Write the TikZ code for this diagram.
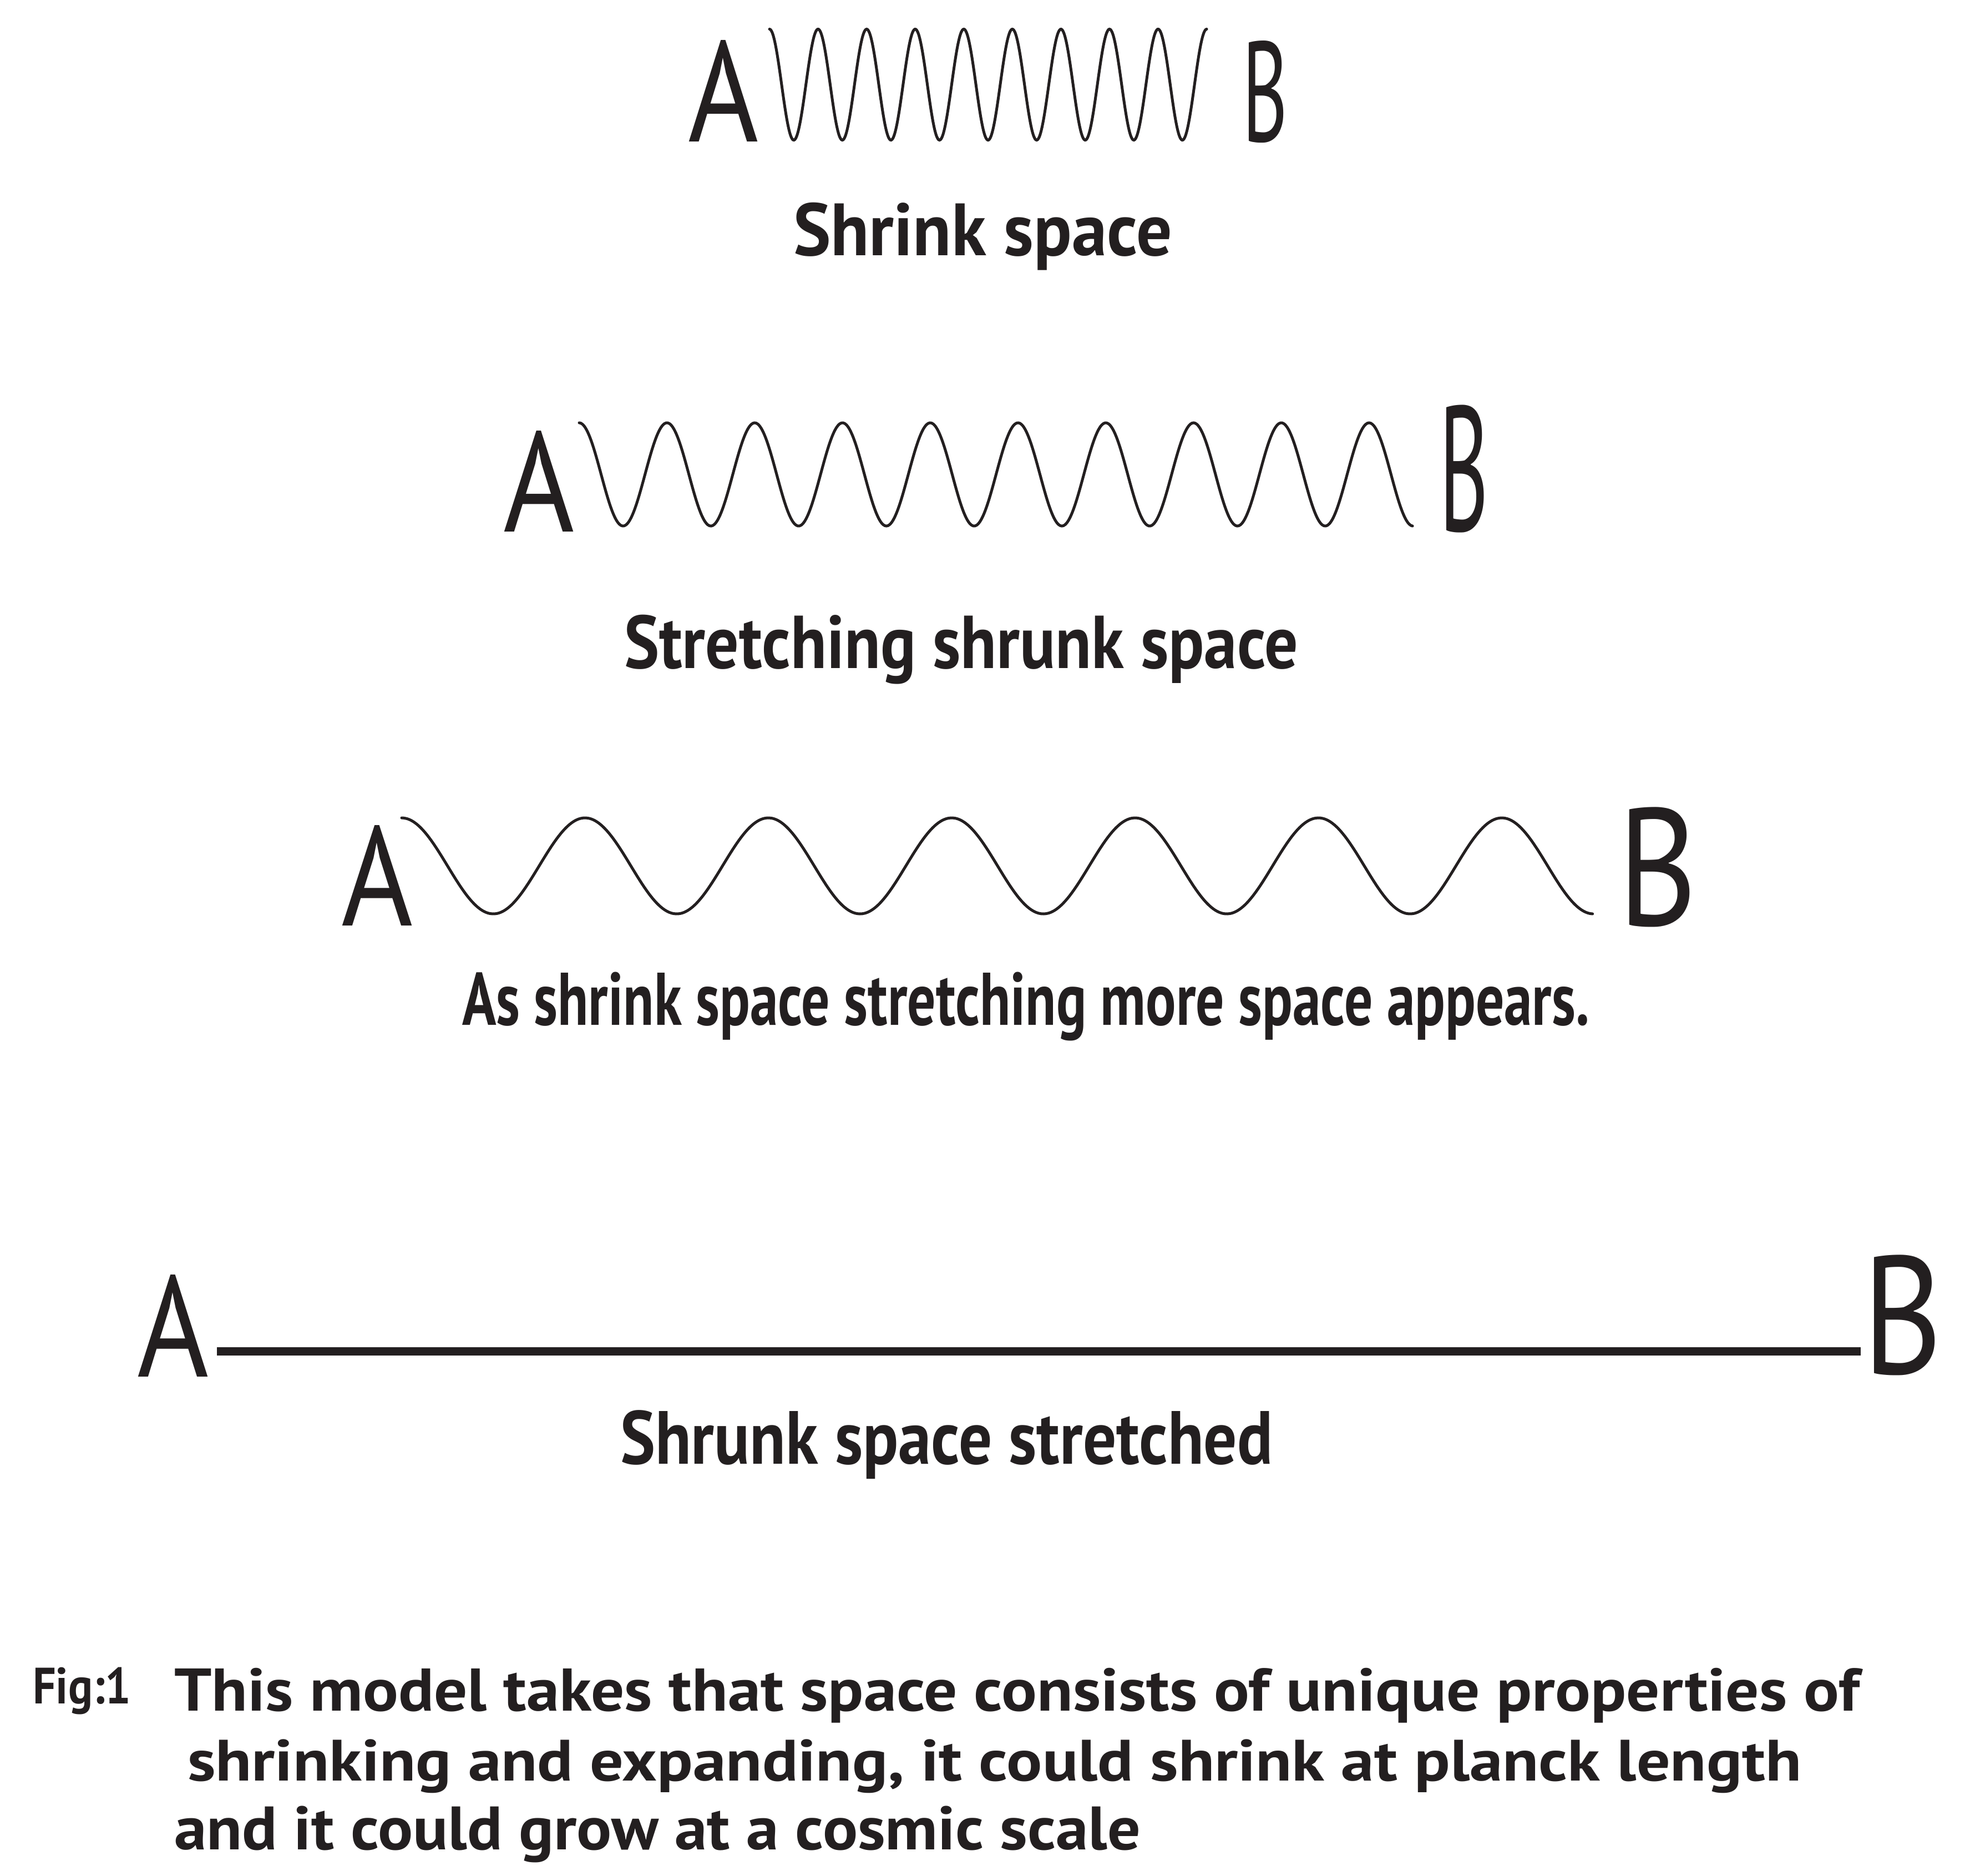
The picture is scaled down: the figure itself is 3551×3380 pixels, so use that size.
\documentclass[tikz,border=0pt]{standalone}
\usepackage{fontspec}
\setmainfont{PT Sans}
\usepackage{graphicx}
\definecolor{ink}{HTML}{231F20}
\newdimen\upx \upx=0.1mm
\newcommand{\fitto}[5]{\resizebox*{\dimexpr\upx*\numexpr#3-#1\relax\relax}{\dimexpr\upx*\numexpr#4-#2\relax\relax}{#5}}
\newcommand{\txtnode}[6]{\node[txt] (#1) at (#2,#3) {\fitto{#2}{#3}{#4}{#5}{#6}};}
\tikzset{
  txt/.style={anchor=north west, inner sep=0pt, outer sep=0pt, text=ink},
  wave/.style={draw=ink, line width=0.5mm, line cap=round},
  straight/.style={draw=ink, line width=1.5mm}
}
\begin{document}
\begin{tikzpicture}[x=0.1mm,y=-0.1mm]
\fill[white] (0,0) rectangle (3551,3380);
\useasboundingbox (0,0) rectangle (3551,3380);

% Row 1
\txtnode{a1}{1240}{72}{1367}{255}{A}
\txtnode{b1}{2239}{73}{2321}{257}{B}
\draw[wave] plot[domain=0:9, samples=500, smooth] ({1387+\x*87.56},{152.5-100*cos(360*\x)});
\txtnode{s1}{1430}{365}{2113}{487}{\bfseries Shrink space}

% Row 2
\txtnode{a2}{907}{776}{1035}{958}{A}
\txtnode{b2}{2594}{730}{2683}{960}{B}
\draw[wave] plot[domain=0:9.5, samples=500, smooth] ({1044+\x*158.2},{855-93*cos(360*\x)});
\txtnode{s2}{1125}{1108}{2340}{1233}{\bfseries Stretching shrunk space}

% Row 3
\txtnode{a3}{615}{1487}{744}{1668}{A}
\txtnode{b3}{2916}{1455}{3059}{1671}{B}
\draw[wave] plot[domain=0:6.5, samples=500, smooth] ({724+\x*330.5},{1560.5-86.5*cos(360*\x)});
\txtnode{s3}{833}{1752}{2865}{1876}{\bfseries As shrink space stretching more space appears.}

% Row 4
\txtnode{a4}{247}{2297}{376}{2481}{A}
\txtnode{b4}{3357}{2262}{3501}{2479}{B}
\coordinate (l1) at (391,2435);
\coordinate (l2) at (3354,2435);
\draw[straight] (l1) -- (l2);
\txtnode{s4}{1118}{2542}{2294}{2666}{\bfseries Shrunk space stretched}

% Caption
\txtnode{fig}{59}{3005}{236}{3090}{\bfseries Fig:1}
\txtnode{c1}{314}{3006}{3352}{3105}{\bfseries This model takes that space consists of unique properties of}
\txtnode{c2}{338}{3135}{3247}{3232}{\bfseries shrinking and expanding, it could shrink at planck length}
\txtnode{c3}{314}{3255}{2056}{3357}{\bfseries and it could grow at a cosmic scale}
\end{tikzpicture}
\end{document}
